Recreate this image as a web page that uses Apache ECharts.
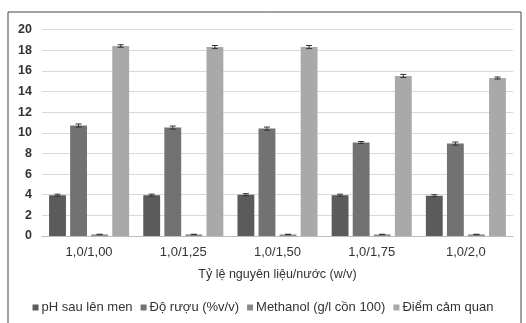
<!DOCTYPE html>
<html><head><meta charset="utf-8">
<script src="https://cdn.jsdelivr.net/npm/echarts@6/dist/echarts.min.js"></script>
<style>html,body{margin:0;padding:0;background:#fff}#c{width:526px;height:323px}</style>
</head><body><div id="c"></div>
<script>
var categories = ['1,0/1,00','1,0/1,25','1,0/1,50','1,0/1,75','1,0/2,0'];
var seriesNames = ['pH sau lên men','Độ rượu (%v/v)','Methanol (g/l cồn 100)','Điểm cảm quan'];
var phValues = [3.95, 3.95, 4.0, 3.95, 3.9];
var alcoholValues = [10.7, 10.5, 10.4, 9.05, 8.95];
var methanolValues = [0.15, 0.15, 0.15, 0.15, 0.15];
var scoreValues = [18.4, 18.3, 18.3, 15.5, 15.3];
var phErr = [0.1, 0.1, 0.1, 0.1, 0.1];
var alcoholErr = [0.15, 0.15, 0.15, 0.1, 0.15];
var methanolErr = [0.02, 0.02, 0.02, 0.02, 0.02];
var scoreErr = [0.12, 0.15, 0.15, 0.15, 0.1];
var yTicks = [0, 20, 2];

var colors = ['#5b5b5b','#727272','#8a8a8a','#a9a9a9'];
var allValues = [phValues, alcoholValues, methanolValues, scoreValues];
var allErr = [phErr, alcoholErr, methanolErr, scoreErr];
var catGap = 0.15, barGapR = 0.25, nBars = 4;

var series = allValues.map(function(v, i){
  return {name: seriesNames[i], type:'bar', data:v, barCategoryGap:'15%', barGap:'25%',
    itemStyle:{color:colors[i]}};
});
var errData = [];
allValues.forEach(function(v, s){
  v.forEach(function(val, c){ errData.push([c, val, allErr[s][c], s]); });
});
series.push({
  type:'custom', name:'err', data: errData, z:10, silent:true,
  renderItem: function(params, api){
    var c = api.value(0), val = api.value(1), e = api.value(2), s = api.value(3);
    var band = api.size([1,0])[0];
    var avail = band*(1-catGap);
    var bw = avail/(nBars + (nBars-1)*barGapR);
    var center = api.coord([c, 0])[0];
    var x = center - avail/2 + s*bw*(1+barGapR) + bw/2;
    var yHi = api.coord([c, val+e])[1], yLo = api.coord([c, val-e])[1];
    var cap = 3;
    var st = {stroke:'#333', lineWidth:1};
    return {type:'group', children:[
      {type:'line', shape:{x1:x,y1:yHi,x2:x,y2:yLo}, style:st},
      {type:'line', shape:{x1:x-cap,y1:yHi,x2:x+cap,y2:yHi}, style:st},
      {type:'line', shape:{x1:x-cap,y1:yLo,x2:x+cap,y2:yLo}, style:st}
    ]};
  }
});

var chart = echarts.init(document.getElementById('c'));
chart.setOption({
  animation:false,
  textStyle:{fontFamily:'Liberation Sans, Arial, sans-serif'},
  graphic:[{type:'rect', shape:{x:8,y:12,width:513,height:320}, style:{fill:'none', stroke:'#444', lineWidth:1}}],
  grid:{left:42, right:13, top:29.5, bottom:87},
  legend:{data:seriesNames, bottom:4, left:'center', itemWidth:6, itemHeight:6, itemGap:8,
    icon:'rect', textStyle:{fontSize:13, color:'#333', padding:[0,0,0,-2]}},
  xAxis:{type:'category', data:categories, name:'Tỷ lệ nguyên liệu/nước (w/v)', nameLocation:'middle', nameGap:32,
    nameTextStyle:{fontSize:12.5, color:'#333'},
    axisTick:{show:false}, axisLine:{lineStyle:{color:'#bbb'}},
    axisLabel:{fontSize:13, color:'#333', margin:10}},
  yAxis:{type:'value', min:yTicks[0], max:yTicks[1], interval:yTicks[2],
    axisLabel:{fontSize:12.5, color:'#333', fontWeight:'bold', margin:10},
    splitLine:{lineStyle:{color:'#d9d9d9'}}, axisLine:{show:false}, axisTick:{show:false}},
  series: series
});
</script></body></html>
